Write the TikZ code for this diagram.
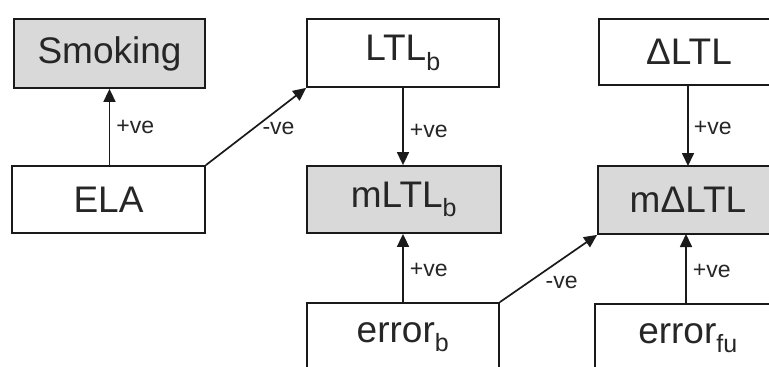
\documentclass[tikz,border=0pt]{standalone}
\usepackage{fontspec}
\setmainfont{Liberation Sans}
\usetikzlibrary{arrows.meta}
\definecolor{boxgray}{HTML}{D9D9D9}
\definecolor{linecol}{HTML}{1A1A1A}
\tikzset{
  box/.style={draw=linecol, line width=1.8pt, minimum width=192pt, minimum height=68pt, inner sep=0pt,
    font=\fontsize{37}{40}\selectfont, text=black!85},
  shaded/.style={box, fill=boxgray},
  link/.style={draw=linecol, line width=1.7pt, -{Triangle[length=13pt,width=12pt]}},
  lbl/.style={font=\fontsize{23}{26}\selectfont, text=black!85, inner sep=2pt}
}
\newcommand{\sbx}[1]{\textsubscript{\fontsize{25}{26}\selectfont #1}}
\begin{document}
\begin{tikzpicture}[x=1pt,y=-1pt]
\useasboundingbox (0,0) rectangle (769,367);
\clip (0,0) rectangle (769,367);
\fill[white] (0,0) rectangle (769,367);
\node[shaded, minimum width=191pt, minimum height=69pt] (smoking) at (109.5,53.5) {Smoking};
\node[box, minimum width=193pt, minimum height=67pt] (ela) at (108.5,199.5) {ELA};
\node[box] (ltlb) at (403,53) {LTL\sbx{b}};
\node[shaded, minimum width=194pt, minimum height=67pt] (mltlb) at (404,199.5) {mLTL\sbx{b}};
\node[box] (errb) at (403,337) {error\sbx{b}};
\node[box, minimum width=180pt, minimum height=66pt] (dltl) at (689,52) {ΔLTL};
\node[shaded, minimum width=180pt] (mdltl) at (688,200) {mΔLTL};
\node[box, minimum width=186pt] (errfu) at (688,338) {error\sbx{fu}};

\draw[link] (ela.north -| smoking.south) -- (smoking.south) node[lbl, midway, right, xshift=4pt] {+ve};
\draw[link] (ela.north east) -- (ltlb.south west) node[lbl, pos=0.725, yshift=-19pt] {-ve};
\draw[link] (ltlb.south) -- (ltlb.south |- mltlb.north) node[lbl, midway, right, xshift=4pt, yshift=-4pt] {+ve};
\draw[link] (errb.north) -- (errb.north |- mltlb.south) node[lbl, midway, right, xshift=4pt, yshift=-2pt] {+ve};
\draw[link] (errb.north east) -- (mdltl.south west) node[lbl, pos=0.636, yshift=-23pt] {-ve};
\draw[link] (dltl.south -| 688,0) -- (688,166) node[lbl, midway, right, xshift=3pt, yshift=-2pt] {+ve};
\draw[link] (errfu.north -| 686,0) -- (686,234) node[lbl, midway, right, xshift=4pt, yshift=-2pt] {+ve};
\end{tikzpicture}
\end{document}
